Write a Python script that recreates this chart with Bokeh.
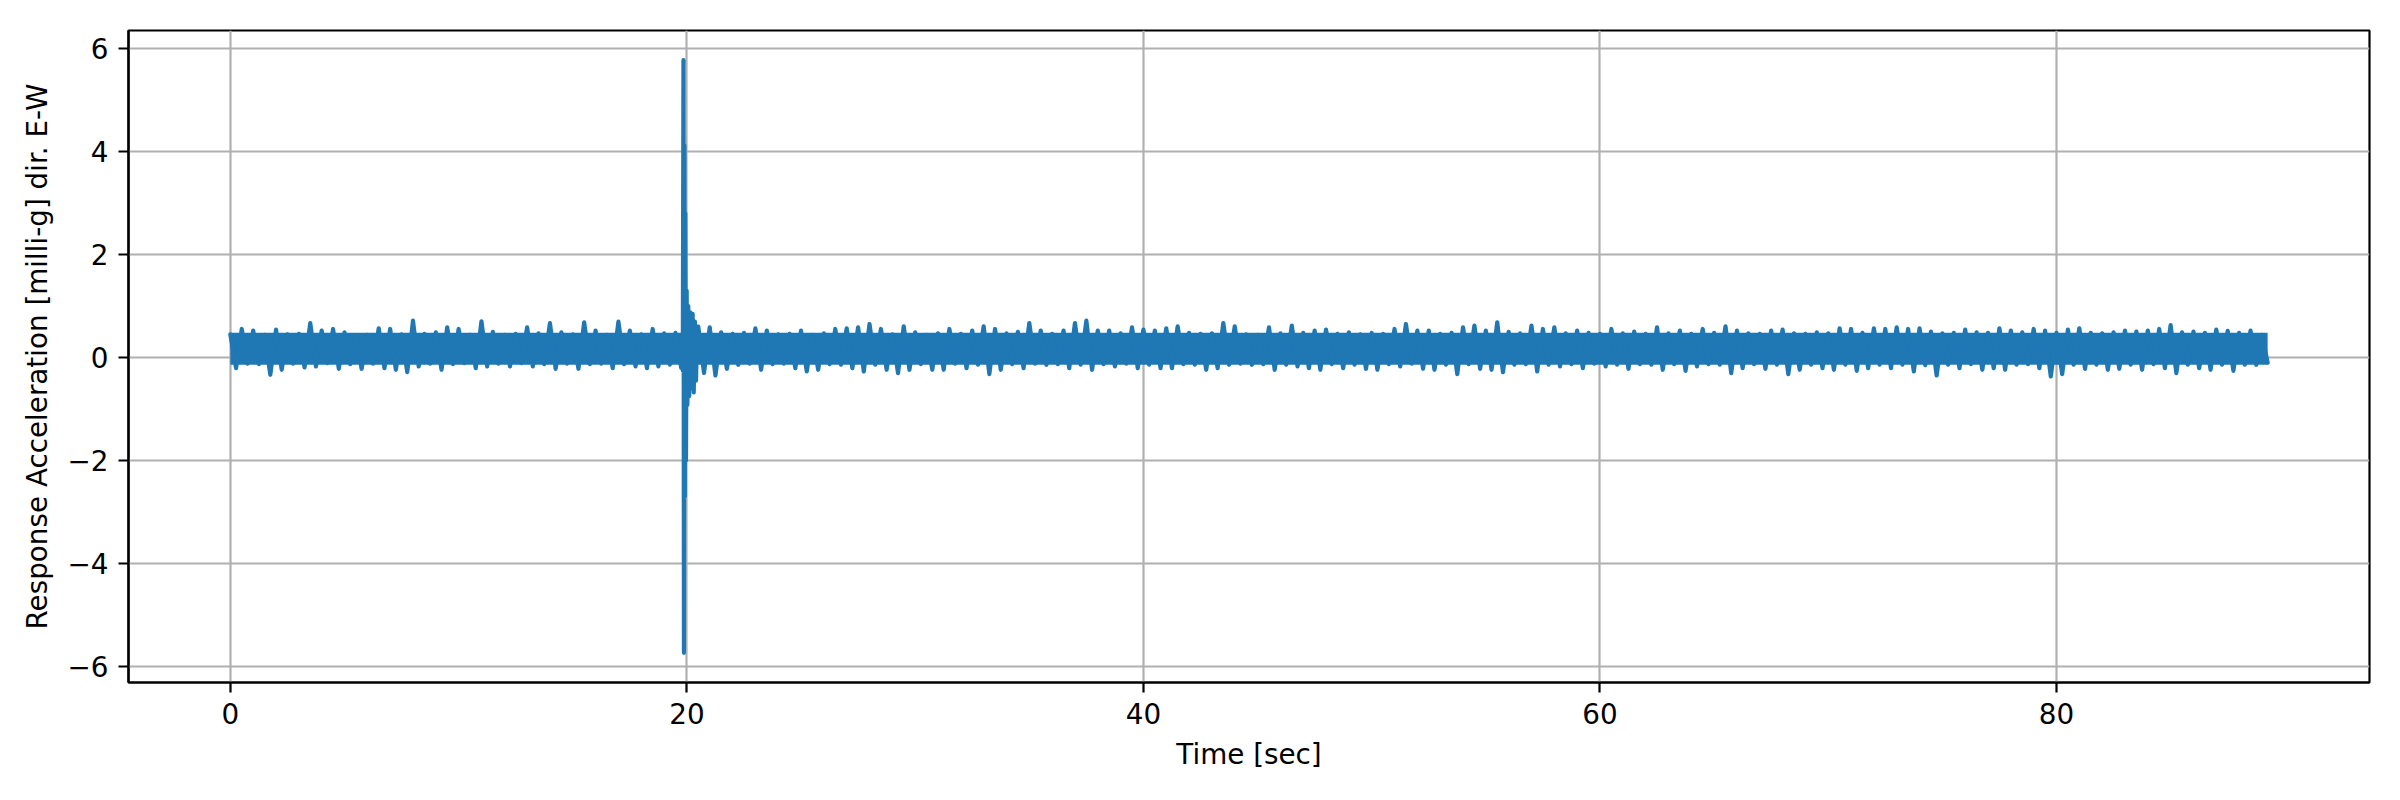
import numpy as np
from bokeh.plotting import figure
from bokeh.models import Range1d, FixedTicker
from bokeh.embed import file_html
from bokeh.resources import INLINE

# ---- data (milli-g vs seconds) ----
T_STEP = 0.5  # spacing of the envelope readings [s]

# upper excursions of the signal, read every 0.5 s starting at t = 0
UPPER = [
    0.45, 0.555, 0.522, 0.44, 0.542, 0.45, 0.46, 0.671, 0.522, 0.555,
    0.49, 0.43, 0.44, 0.567, 0.555, 0.45, 0.716, 0.46, 0.49, 0.587,
    0.555, 0.44, 0.703, 0.50, 0.44, 0.46, 0.587, 0.47, 0.671, 0.49,
    0.45, 0.684, 0.522, 0.44, 0.697, 0.522, 0.45, 0.555, 0.47, 0.48,
    0.90, 0.60, 0.587, 0.49, 0.46, 0.48, 0.567, 0.522, 0.45, 0.46,
    0.522, 0.44, 0.47, 0.555, 0.567, 0.587, 0.652, 0.555, 0.45, 0.607,
    0.49, 0.44, 0.47, 0.555, 0.46, 0.522, 0.607, 0.555, 0.47, 0.50,
    0.671, 0.522, 0.46, 0.522, 0.671, 0.716, 0.522, 0.522, 0.47, 0.587,
    0.542, 0.522, 0.567, 0.607, 0.48, 0.46, 0.47, 0.671, 0.607, 0.45,
    0.44, 0.587, 0.47, 0.62, 0.48, 0.522, 0.542, 0.46, 0.49, 0.45,
    0.477, 0.46, 0.555, 0.652, 0.522, 0.522, 0.46, 0.48, 0.587, 0.62,
    0.522, 0.684, 0.50, 0.47, 0.62, 0.555, 0.587, 0.47, 0.522, 0.48,
    0.46, 0.555, 0.47, 0.503, 0.46, 0.587, 0.47, 0.522, 0.46, 0.555,
    0.48, 0.607, 0.522, 0.47, 0.46, 0.522, 0.542, 0.47, 0.46, 0.49,
    0.47, 0.567, 0.555, 0.48, 0.567, 0.555, 0.587, 0.555, 0.567, 0.503,
    0.47, 0.48, 0.542, 0.49, 0.48, 0.567, 0.522, 0.49, 0.555, 0.522,
    0.48, 0.542, 0.567, 0.48, 0.47, 0.49, 0.522, 0.503, 0.522, 0.555,
    0.632, 0.49, 0.503, 0.48, 0.542, 0.52, 0.48, 0.522, 0.44,
]

# lower excursions of the signal, read every 0.5 s starting at t = 0.25
LOWER = [
    -0.206, -0.12, -0.13, -0.335, -0.238, -0.12, -0.193, -0.173, -0.11, -0.219,
    -0.13, -0.219, -0.12, -0.206, -0.238, -0.284, -0.173, -0.12, -0.238, -0.13,
    -0.11, -0.206, -0.173, -0.12, -0.173, -0.11, -0.173, -0.13, -0.219, -0.12,
    -0.219, -0.13, -0.12, -0.206, -0.13, -0.173, -0.206, -0.173, -0.14, -0.20,
    -0.70, -0.30, -0.348, -0.219, -0.141, -0.12, -0.238, -0.13, -0.12, -0.206,
    -0.271, -0.238, -0.13, -0.14, -0.206, -0.271, -0.14, -0.238, -0.303, -0.238,
    -0.13, -0.238, -0.238, -0.12, -0.206, -0.14, -0.322, -0.238, -0.13, -0.206,
    -0.12, -0.141, -0.13, -0.206, -0.14, -0.238, -0.13, -0.173, -0.12, -0.206,
    -0.14, -0.206, -0.206, -0.13, -0.14, -0.238, -0.206, -0.141, -0.12, -0.141,
    -0.13, -0.238, -0.14, -0.173, -0.206, -0.238, -0.13, -0.206, -0.14, -0.219,
    -0.238, -0.13, -0.173, -0.12, -0.219, -0.238, -0.14, -0.322, -0.13, -0.219,
    -0.238, -0.284, -0.14, -0.13, -0.271, -0.14, -0.173, -0.13, -0.206, -0.12,
    -0.173, -0.14, -0.219, -0.13, -0.14, -0.238, -0.13, -0.258, -0.173, -0.13,
    -0.14, -0.303, -0.206, -0.13, -0.219, -0.14, -0.322, -0.238, -0.14, -0.206,
    -0.238, -0.14, -0.258, -0.206, -0.14, -0.206, -0.14, -0.271, -0.15, -0.348,
    -0.14, -0.206, -0.13, -0.238, -0.206, -0.238, -0.14, -0.13, -0.206, -0.368,
    -0.322, -0.14, -0.219, -0.14, -0.238, -0.219, -0.14, -0.238, -0.13, -0.206,
    -0.303, -0.14, -0.206, -0.238, -0.14, -0.258, -0.14, -0.141, -0.10,
]

# the strong transient near t = 20 s
BURST_T = [19.78, 19.82, 19.85, 19.87, 19.89, 19.91, 19.93, 19.96, 19.99, 20.02,
           20.06, 20.10, 20.15, 20.20, 20.25, 20.30, 20.35, 20.40, 20.45]
BURST_Y = [0.15, -0.25, 5.78, -5.74, 4.12, -2.70, 2.80, -2.00, 1.30, -0.92,
           1.00, -0.75, 0.88, -0.60, 0.85, -0.68, 0.70, -0.45, 0.60]

X_TICKS = [0, 20, 40, 60, 80]
Y_TICKS = [-6, -4, -2, 0, 2, 4, 6]
Y_TICK_LABELS = ["\u22126", "\u22124", "\u22122", "0", "2", "4", "6"]

X_LABEL = "Time [sec]"
Y_LABEL = "Response Acceleration [milli-g] dir. E-W"

# ---- build the signal ----
up = np.array(UPPER)
lo = np.array(LOWER)
t_up = np.arange(len(up)) * T_STEP
t_lo = t_up + T_STEP / 2

zig_t = np.empty(len(up) + len(lo))
zig_y = np.empty_like(zig_t)
zig_t[0::2] = t_up
zig_t[1::2] = t_lo
zig_y[0::2] = up
zig_y[1::2] = lo

keep = (zig_t < BURST_T[0]) | (zig_t > BURST_T[-1])
sig_t = np.concatenate([zig_t[keep], BURST_T])
sig_y = np.concatenate([zig_y[keep], BURST_Y])
order = np.argsort(sig_t, kind="stable")
sig_t = sig_t[order]
sig_y = sig_y[order]

# dense core of the trace (where the oscillation overlaps itself)
core_top = np.full_like(zig_t, np.quantile(up, 0.35))
core_bot = np.full_like(zig_t, np.quantile(lo, 0.65))

# matplotlib-like 5% margins
xmin, xmax = sig_t.min(), sig_t.max()
ymin, ymax = sig_y.min(), sig_y.max()
xp = 0.05 * (xmax - xmin)
yp = 0.05 * (ymax - ymin)

FONT = "DejaVu Sans"
FS = "27.8px"
BLUE = "#1f77b4"

p = figure(
    width=2384, height=784,
    output_backend="svg", toolbar_location=None,
    x_range=Range1d(xmin - xp, xmax + xp),
    y_range=Range1d(ymin - yp, ymax + yp),
    min_border_left=128, min_border_right=15,
    min_border_top=30, min_border_bottom=102,
    background_fill_color="white", border_fill_color="white",
)

p.varea(x=zig_t, y1=core_bot, y2=core_top, fill_color=BLUE, fill_alpha=1.0)
p.line(sig_t, sig_y, line_color=BLUE, line_width=4.2,
       line_join="round", line_cap="round")

# axes
p.xaxis.ticker = FixedTicker(ticks=X_TICKS)
p.yaxis.ticker = FixedTicker(ticks=Y_TICKS)
p.yaxis.major_label_overrides = {t: s for t, s in zip(Y_TICKS, Y_TICK_LABELS)}
p.xaxis.axis_label = X_LABEL
p.yaxis.axis_label = Y_LABEL

for ax in (p.xaxis[0], p.yaxis[0]):
    ax.axis_label_text_font = FONT
    ax.axis_label_text_font_size = FS
    ax.axis_label_text_font_style = "normal"
    ax.axis_label_text_color = "black"
    ax.axis_label_standoff = 11
    ax.major_label_text_font = FONT
    ax.major_label_text_font_size = FS
    ax.major_label_text_color = "black"
    ax.major_label_standoff = 10
    ax.major_tick_out = 10
    ax.major_tick_in = 0
    ax.major_tick_line_width = 2.2
    ax.major_tick_line_color = "black"
    ax.minor_tick_line_color = None
    ax.axis_line_color = "black"
    ax.axis_line_width = 2.2

p.grid.grid_line_color = "#b0b0b0"
p.grid.grid_line_width = 2.2
p.grid.grid_line_alpha = 1.0

p.outline_line_color = "black"
p.outline_line_width = 2.2
p.outline_line_alpha = 1.0

open("out.html", "w").write(file_html(p, INLINE))
